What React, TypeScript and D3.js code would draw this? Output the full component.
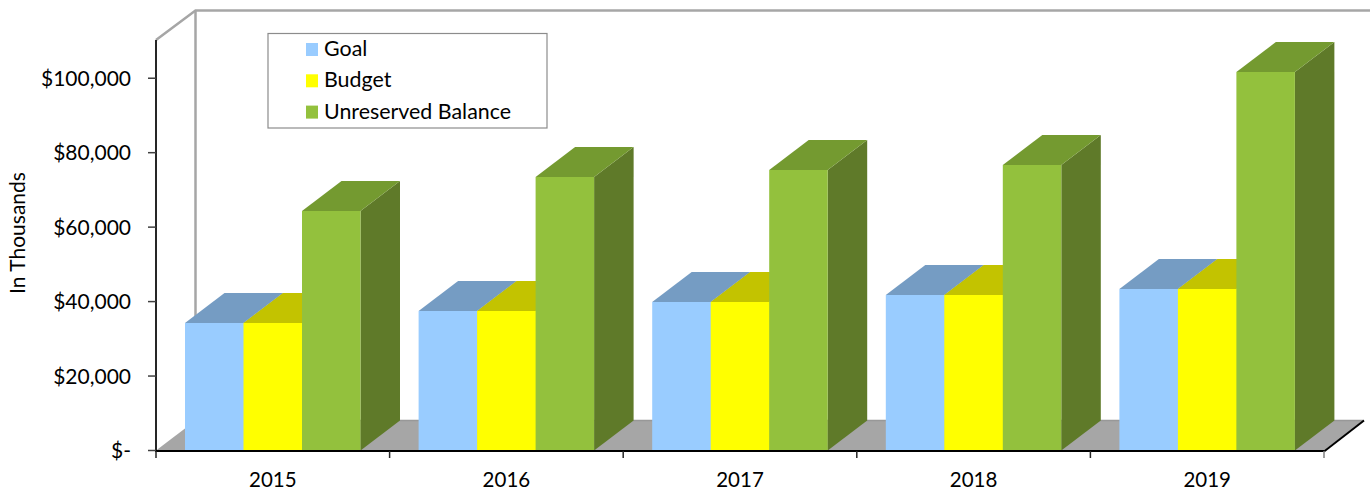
import React from "react";
import * as d3 from "d3";

const categories = ["2015", "2016", "2017", "2018", "2019"];
const goal = [34150, 37400, 39800, 41700, 43400];
const budget = [34150, 37400, 39800, 41700, 43400];
const unreserved = [64250, 73400, 75300, 76600, 101600];
const yTicks = [0, 20000, 40000, 60000, 80000, 100000];
const seriesNames = ["Goal", "Budget", "Unreserved Balance"];
const seriesValues = [goal, budget, unreserved];
const front = ["#99ccff", "#ffff00", "#93c13d"];
const top = ["#759cc3", "#c3c300", "#749a30"];
const side = ["#759cc3", "#c3c300", "#5f7a29"];

const FONT = "Lato, 'Open Sans', sans-serif";
const DX = 39.5;
const DY = -30;

export default function App() {
  const y = d3.scaleLinear().domain([0, 110000]).range([450.5, 41]);
  const x = d3.scaleBand().domain(categories).range([156, 1324]).paddingInner(0).paddingOuter(0);
  const band = x.bandwidth();
  const barW = 58.5;
  const pad = 29;
  const y0 = y(0);
  const fmt = (v: number) => (v === 0 ? "$-" : "$" + d3.format(",")(v));

  return (
    <svg width={1370} height={491} style={{ position: "absolute", left: 0, top: 0, background: "#fff" }} fontFamily={FONT}>
      {/* walls */}
      <path d={`M156,40 L195.5,10.5 L1370,10.5`} fill="none" stroke="#a6a6a6" strokeWidth={2.5} />
      <line x1={195.5} x2={195.5} y1={10} y2={420} stroke="#a6a6a6" strokeWidth={2.5} />
      {/* floor */}
      <path d={`M156,${y0} L${156 + DX},${y0 + DY} L${1324 + DX},${y0 + DY} L1324,${y0} Z`} fill="#a6a6a6" />
      <line x1={195.5} x2={1364} y1={y0 + DY} y2={y0 + DY} stroke="#989898" strokeWidth={1.5} />
      <line x1={1324} x2={1364} y1={y0 + 1} y2={y0 + DY} stroke="#000" strokeWidth={2} />
      {/* bars */}
      {categories.map((c, i) => {
        const bx = (x(c) as number) + pad;
        return (
          <g key={c}>
            {seriesValues.map((vals, s) => {
              const l = bx + s * barW;
              const r = l + barW;
              const t = Math.round(y(vals[i]));
              return (
                <g key={s}>
                  <path d={`M${r},${y0} L${r + DX},${y0 + DY} L${r + DX},${t + DY} L${r},${t} Z`} fill={side[s]} />
                  <path d={`M${l},${t} L${l + DX},${t + DY} L${r + DX},${t + DY} L${r},${t} Z`} fill={top[s]} />
                  <rect x={l} y={t} width={barW + (s < 2 ? 0.5 : 0)} height={y0 - t} fill={front[s]} />
                </g>
              );
            })}
          </g>
        );
      })}
      {/* axes */}
      <line x1={156} x2={156} y1={40} y2={452} stroke="#262626" strokeWidth={2} />
      <line x1={155} x2={1324} y1={451} y2={451} stroke="#000" strokeWidth={2} />
      {yTicks.map((t) => (
        <g key={t}>
          <line x1={148} x2={156} y1={y(t)} y2={y(t)} stroke="#404040" strokeWidth={1.5} />
          <text x={131} y={y(t) + 7.5} textAnchor="end" fontSize={21} fill="#000">{fmt(t)}</text>
        </g>
      ))}
      {d3.range(categories.length + 1).map((i) => {
        const px = 156 + i * band;
        return <line key={i} x1={px} x2={px} y1={451} y2={458} stroke={i === 5 ? "#808080" : "#262626"} strokeWidth={1.5} />;
      })}
      {categories.map((c) => (
        <text key={c} x={(x(c) as number) + band / 2} y={486.5} textAnchor="middle" fontSize={20.5} fill="#000">{c}</text>
      ))}
      <text transform="translate(25,233) rotate(-90)" textAnchor="middle" fontSize={21} fill="#000">In Thousands</text>
      {/* legend */}
      <rect x={268} y={33.5} width={279} height={94.5} fill="#fff" stroke="#8c8c8c" strokeWidth={1.2} />
      {seriesNames.map((n, i) => (
        <g key={n}>
          <rect x={306} y={43 + i * 31.3} width={12} height={13} fill={front[i]} />
          <text x={324} y={56 + i * 31.3} fontSize={21.4} fill="#000">{n}</text>
        </g>
      ))}
    </svg>
  );
}
